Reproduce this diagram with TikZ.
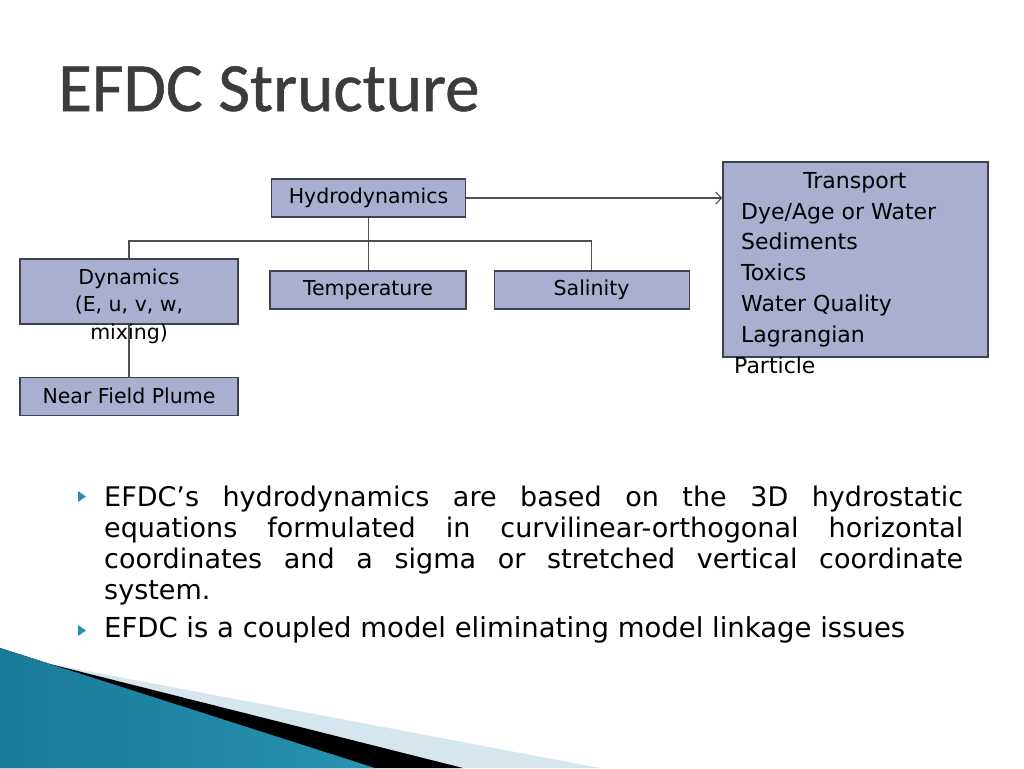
\documentclass[tikz,border=0pt]{standalone}
\usepackage{fontspec}
\setmainfont{DejaVu Sans}
\newfontfamily\titlefont[FakeBold=0.8]{Carlito}
\usetikzlibrary{positioning, arrows.meta}
\hbadness=10000
\definecolor{bfill}{RGB}{170,174,208}
\definecolor{bline}{RGB}{64,64,80}
\definecolor{lgrey}{RGB}{80,80,80}
\definecolor{tgrey}{RGB}{60,60,60}
\definecolor{tdark}{RGB}{24,122,152}
\definecolor{tlight}{RGB}{92,192,224}
\definecolor{tmid}{RGB}{40,146,178}
\definecolor{pale}{RGB}{214,230,239}
\definecolor{tbullet}{RGB}{42,143,174}

\tikzset{
  box/.style={draw=bline, line width=1.1pt, fill=bfill, inner sep=0pt,
    font=\fontsize{20.5}{27.5}\selectfont},
  link/.style={draw=lgrey, line width=1.1pt},
}

\begin{document}
\begin{tikzpicture}[x=1pt,y=-1pt]
  \useasboundingbox (0,0) rectangle (1024,768);
  % swoosh in the lower left corner
  \fill[pale] (0,648) -- (50,664) -- (600,768) -- (0,768) -- cycle;
  \fill[black] (0,648) -- (50,664) -- (463,768) -- (0,768) -- cycle;
  \shade[left color=tdark, middle color=tlight, right color=tmid]
    (0,648) -- (375,768) -- (0,768) -- cycle;

  \node[anchor=base west, inner sep=0, text=tgrey,
    font=\titlefont\fontsize{69}{72}\selectfont] (title) at (58,111) {EFDC Structure};

  % the boxes
  \node[box, minimum width=194pt, minimum height=38pt] (hydro) at (368.5,198) {Hydrodynamics};
  \node[box, minimum width=196pt, minimum height=38pt] (temp) at (368,290) {Temperature};
  \node[box, minimum width=195pt, minimum height=38pt, right=27pt of temp] (sal) {Salinity};
  \node[box, minimum width=218pt, minimum height=65pt] (dyn) at (129,291.5) {};
  \node[box, minimum width=218pt, minimum height=38pt, below=52pt of dyn] (plume) {Near Field Plume};
  \node[box, minimum width=265pt, minimum height=195pt] (trans) at (855.5,259.5) {};

  \coordinate (bar) at (368.5,241);
  \draw[link] (hydro.south) -- (hydro.south |- temp.north);
  \draw[link] (dyn.north) |- (bar) -| (sal.north);
  \draw[link] (dyn.south) -- (plume.north);
  \draw[link, -{Straight Barb[length=6pt,width=12pt]}] (hydro.east) -- (hydro.east -| trans.west);

  % texts that run over the box edges
  \node[anchor=north, align=center, inner sep=0, font=\fontsize{20.5}{27.5}\selectfont]
    (dyntext) at ([yshift=-10pt]dyn.north) {Dynamics\\(E, u, v, w,\\mixing)};
  \node[anchor=north west, align=left, inner sep=0, font=\fontsize{22}{30.8}\selectfont]
    (transtext) at (734,172) {\hspace*{69pt}Transport\\\hspace*{7pt}Dye/Age or Water\\
    \hspace*{7pt}Sediments\\\hspace*{7pt}Toxics\\\hspace*{7pt}Water Quality\\
    \hspace*{7pt}Lagrangian\\Particle};

  % bullet points
  \foreach \y in {496.5,630.5}
    \fill[tbullet] (78,\y-5.5) -- (86,\y) -- (78,\y+5.5) -- cycle;
  \node[anchor=north west, text width=859pt, align=justify, inner sep=0,
    font=\fontsize{27}{31}\selectfont]
    (pointa) at (104,486) {EFDC’s hydrodynamics are based on the 3D hydrostatic\linebreak
    equations formulated in curvilinear-orthogonal horizontal\linebreak
    coordinates and a sigma or stretched vertical coordinate\linebreak system.};
  \node[anchor=base west, inner sep=0, font=\fontsize{27.5}{31}\selectfont]
    (pointb) at (104,637) {EFDC is a coupled model eliminating model linkage issues};
\end{tikzpicture}
\end{document}
